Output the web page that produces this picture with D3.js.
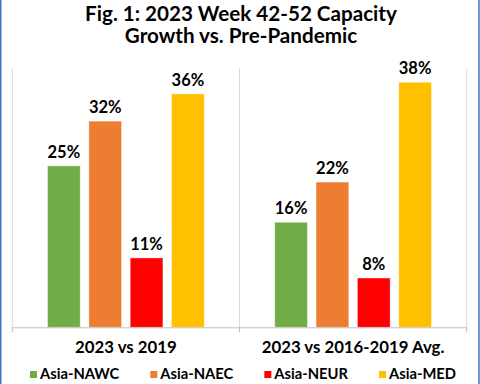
<!DOCTYPE html>
<html><head><meta charset="utf-8">
<script src="https://cdn.jsdelivr.net/npm/d3@7"></script>
<style>html,body{margin:0;padding:0;background:#fff;}svg{display:block;}</style>
</head><body>
<script>
const categories = ["2023 vs 2019", "2023 vs 2016-2019 Avg."];
const seriesNames = ["Asia-NAWC", "Asia-NAEC", "Asia-NEUR", "Asia-MED"];
const seriesColors = ["#70ad47", "#ed7d31", "#ff0000", "#ffc000"];
const valuesNAWC = [24.9, 16.2];
const valuesNAEC = [31.8, 22.4];
const valuesNEUR = [10.7, 7.6];
const valuesMED = [36.0, 37.8];
const titleLines = ["Fig. 1: 2023 Week 42-52 Capacity", "Growth vs. Pre-Pandemic"];

const seriesValues = [valuesNAWC, valuesNAEC, valuesNEUR, valuesMED];
const W = 480, H = 384;
const FONT = "Lato, 'Open Sans', sans-serif";
const pct = v => d3.format(".0f")(v) + "%";
const svg = d3.select("body").append("svg").attr("width", W).attr("height", H);
svg.append("rect").attr("width", W).attr("height", H).attr("fill", "#fff");

function fitSize(str, target, base) {
  const t = svg.append("text").attr("font-family", FONT).attr("font-weight", "bold")
    .attr("font-size", base).text(str);
  const w = t.node().getComputedTextLength();
  t.remove();
  return base * target / w;
}

// frame
svg.append("line").attr("x1", 0.75).attr("x2", 0.75).attr("y1", 0).attr("y2", H)
  .attr("stroke", "#4472c4").attr("stroke-width", 1.5);
svg.append("line").attr("x1", 479).attr("x2", 479).attr("y1", 0).attr("y2", H)
  .attr("stroke", "#4472c4").attr("stroke-width", 1.5);

// title
const titleSize = fitSize(titleLines[0], 312, 20);
svg.selectAll("text.title").data(titleLines).join("text").attr("class", "title")
  .attr("x", 241).attr("y", (d, i) => 21 + i * 22)
  .attr("text-anchor", "middle").attr("font-family", FONT).attr("font-weight", "bold")
  .attr("font-size", titleSize).attr("fill", "#000").text(d => d);

// scales
const x0 = d3.scaleBand().domain(categories).range([12.3, 466.7]).paddingInner(0).paddingOuter(0);
const x1 = d3.scaleBand().domain(seriesNames).range([0, x0.bandwidth()]).paddingInner(0.21).paddingOuter(0.853);
const y = d3.scaleLinear().domain([0, 40]).range([327.3, 68]);
const color = d3.scaleOrdinal().domain(seriesNames).range(seriesColors);

// vertical gridlines at category boundaries
const bounds = [x0.range()[0], ...categories.map(c => x0(c) + x0.bandwidth())];
svg.selectAll("line.grid").data(bounds).join("line").attr("class", "grid")
  .attr("x1", d => d).attr("x2", d => d).attr("y1", y(40)).attr("y2", y(0))
  .attr("stroke", "#d9d9d9").attr("stroke-width", 1);

// bars
const g = svg.append("g");
const groups = g.selectAll("g.cat").data(categories).join("g")
  .attr("transform", c => `translate(${x0(c)},0)`);
const labelSize = fitSize("25%", 32.7, 18);
groups.each(function(c, ci) {
  const gg = d3.select(this);
  const rows = seriesNames.map((s, si) => ({ s, v: seriesValues[si][ci] }));
  gg.selectAll("rect").data(rows).join("rect")
    .attr("x", d => x1(d.s)).attr("width", x1.bandwidth())
    .attr("y", d => y(d.v)).attr("height", d => y(0) - y(d.v))
    .attr("fill", d => color(d.s))
    .attr("stroke", "#fff").attr("stroke-opacity", 0.35).attr("stroke-width", 1);
  gg.selectAll("text").data(rows).join("text")
    .attr("x", d => x1(d.s) + x1.bandwidth() / 2).attr("y", d => y(d.v) - 8)
    .attr("text-anchor", "middle").attr("font-family", FONT).attr("font-weight", "bold")
    .attr("font-size", labelSize).attr("fill", "#000").text(d => pct(d.v));
});

// x axis
const xAxis = d3.axisBottom(x0).tickValues([]).tickSizeOuter(0);
const ax = svg.append("g").attr("transform", `translate(0,${y(0)})`).call(xAxis);
ax.select(".domain").attr("stroke", "#bfbfbf");
ax.selectAll("line.tk").data(bounds).join("line").attr("class", "tk")
  .attr("x1", d => d).attr("x2", d => d).attr("y1", 0).attr("y2", 5)
  .attr("stroke", "#bfbfbf");
const catSize = fitSize(categories[0], 101.7, 18);
svg.selectAll("text.cat").data(categories).join("text").attr("class", "cat")
  .attr("x", c => x0(c) + x0.bandwidth() / 2).attr("y", 353)
  .attr("text-anchor", "middle").attr("font-family", FONT).attr("font-weight", "bold")
  .attr("font-size", catSize).attr("fill", "#000").text(c => c);

// legend
const legSize = fitSize(seriesNames[0], 79.4, 15);
const leg = svg.append("g");
const widths = seriesNames.map(s => {
  const t = leg.append("text").attr("font-family", FONT).attr("font-weight", "bold")
    .attr("font-size", legSize).text(s);
  const w = t.node().getComputedTextLength(); t.remove(); return w;
});
const sq = 7, sqGap = 3, itemGap = 31;
const total = d3.sum(widths) + seriesNames.length * (sq + sqGap) + (seriesNames.length - 1) * itemGap;
let cx = 243 - total / 2;
seriesNames.forEach((s, i) => {
  leg.append("rect").attr("x", cx).attr("y", 371).attr("width", sq).attr("height", sq)
    .attr("fill", color(s));
  leg.append("text").attr("x", cx + sq + sqGap).attr("y", 379.3)
    .attr("font-family", FONT).attr("font-weight", "bold").attr("font-size", legSize)
    .attr("fill", "#000").text(s);
  cx += sq + sqGap + widths[i] + itemGap;
});
</script>
</body></html>
